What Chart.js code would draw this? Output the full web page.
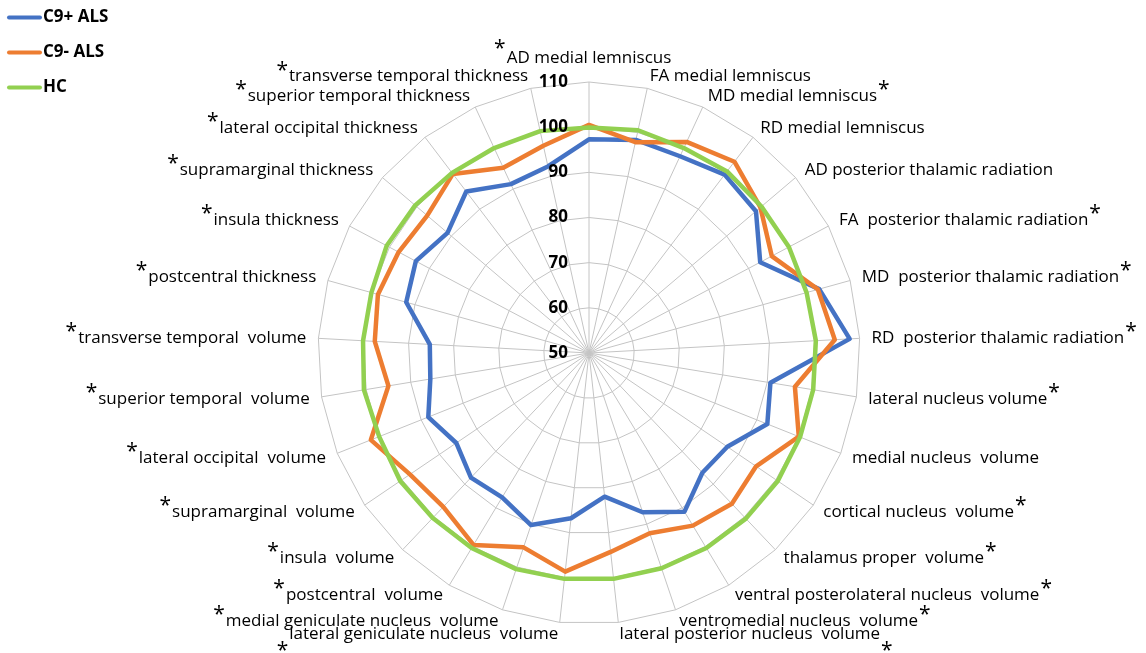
<!DOCTYPE html>
<html>
<head>
<meta charset="utf-8">
<title>Radar chart</title>
<script src="https://cdn.jsdelivr.net/npm/chart.js@4.4.1/dist/chart.umd.min.js"></script>
<style>
  html, body { margin: 0; padding: 0; background: #ffffff; }
  canvas { display: block; }
</style>
</head>
<body>
<canvas id="radar" width="1146" height="653"></canvas>
<script>
// Axis categories, clockwise from the top
const categories = [
  'AD medial lemniscus',
  'FA medial lemniscus',
  'MD medial lemniscus',
  'RD medial lemniscus',
  'AD posterior thalamic radiation',
  'FA  posterior thalamic radiation',
  'MD  posterior thalamic radiation',
  'RD  posterior thalamic radiation',
  'lateral nucleus volume',
  'medial nucleus  volume',
  'cortical nucleus  volume',
  'thalamus proper  volume',
  'ventral posterolateral nucleus  volume',
  'ventromedial nucleus  volume',
  'lateral posterior nucleus  volume',
  'lateral geniculate nucleus  volume',
  'medial geniculate nucleus  volume',
  'postcentral  volume',
  'insula  volume',
  'supramarginal  volume',
  'lateral occipital  volume',
  'superior temporal  volume',
  'transverse temporal  volume',
  'postcentral thickness',
  'insula thickness',
  'supramarginal thickness',
  'lateral occipital thickness',
  'superior temporal thickness',
  'transverse temporal thickness'
];

// Categories flagged with an asterisk
const significant = [
  true, false, true, false, false, true, true, true,
  true, false, true, true, true, true, true, true,
  true, true, true, true, true, true, true, true,
  true, true, true, true, true
];

// Series values (percent of reference)
const c9PositiveAls = [
  97.3, 98.3, 98.0, 99.6, 98.5, 92.9, 102.9, 107.8,
  90.7, 92.5, 87.0, 86.5, 91.0, 87.2, 82.0, 86.8,
  90.2, 87.3, 88.0, 85.5, 88.3, 85.6, 85.3, 92.0,
  93.4, 91.1, 94.9, 91.2, 92.3
];
const c9NegativeAls = [
  100.5, 97.8, 101.5, 103.2, 99.8, 95.8, 102.6, 104.5,
  96.2, 100.0, 94.7, 96.0, 94.6, 92.1, 94.3, 98.7,
  95.4, 99.6, 96.9, 97.9, 102.0, 95.0, 97.5, 98.5,
  97.7, 97.0, 99.8, 95.2, 97.0
];
const healthyControls = [
  99.9, 100.5, 100.0, 100.5, 100.1, 100.1, 100.0, 100.3,
  100.3, 100.3, 100.5, 100.5, 100.4, 100.3, 100.3, 100.3,
  100.5, 100.4, 100.3, 100.5, 100.0, 100.5, 100.1, 100.0,
  100.7, 100.5, 100.1, 100.0, 100.3
];

// Radial axis range and tick spacing
const axisMin = 50;
const axisMax = 110;
const axisStep = 10;

const seriesNames = ['C9+ ALS', 'C9- ALS', 'HC'];
const seriesColors = ['#4472C4', '#ED7D31', '#92D050'];

const TEXT_FONT = '"Open Sans", "Noto Sans", sans-serif';

// Draws tick values, category labels with asterisks, and the legend
const radarText = {
  id: 'radarText',
  afterDraw(chart) {
    const scale = chart.scales.r;
    const ctx = chart.ctx;
    ctx.save();
    ctx.fillStyle = '#000000';

    // tick values along the top spoke, right-aligned beside it
    ctx.font = 'bold 17px ' + TEXT_FONT;
    ctx.textAlign = 'right';
    ctx.textBaseline = 'middle';
    scale.ticks.forEach(t => {
      const d = scale.getDistanceFromCenterForValue(t.value);
      ctx.fillText(t.label, scale.xCenter - 21, scale.yCenter - d);
    });

    // category labels around the outer ring
    const outer = scale.getDistanceFromCenterForValue(scale.max);
    categories.forEach((text, i) => {
      const angle = scale.getIndexAngle(i);
      const sx = Math.sin(angle);
      const cy = Math.cos(angle);
      const atTop = Math.abs(sx) < 0.01 && cy > 0;
      const pos = scale.getPointPosition(i, outer + (atTop ? 15 : 12));
      ctx.font = '17px ' + TEXT_FONT;
      const w = ctx.measureText(text).width;
      let left;
      if (atTop) {
        ctx.textAlign = 'center';
        ctx.textBaseline = 'bottom';
        left = pos.x - w / 2;
      } else if (sx > 0) {
        ctx.textAlign = 'left';
        ctx.textBaseline = 'middle';
        left = pos.x;
      } else {
        ctx.textAlign = 'right';
        ctx.textBaseline = 'middle';
        left = pos.x - w;
      }
      ctx.fillText(text, pos.x, pos.y);

      if (significant[i]) {
        const midY = atTop ? pos.y - 12 : pos.y;
        const nearBottom = Math.abs(sx) < 0.15 && cy < 0;
        ctx.font = '21px ' + TEXT_FONT;
        ctx.textBaseline = 'alphabetic';
        const starY = nearBottom ? midY + 23 : midY;
        if (sx > 0.01) {
          ctx.textAlign = 'left';
          ctx.fillText('*', left + w + 1, starY);
        } else {
          ctx.textAlign = 'right';
          ctx.fillText('*', left - 1, starY);
        }
      }
    });

    // legend in the top-left corner
    ctx.font = 'bold 17px ' + TEXT_FONT;
    ctx.textAlign = 'left';
    ctx.textBaseline = 'middle';
    chart.data.datasets.forEach((ds, k) => {
      const y = 17.5 + k * 35;
      ctx.strokeStyle = ds.borderColor;
      ctx.lineWidth = 4;
      ctx.lineCap = 'round';
      ctx.beginPath();
      ctx.moveTo(9, y);
      ctx.lineTo(40, y);
      ctx.stroke();
      ctx.fillText(ds.label, 43, y);
    });
    ctx.restore();
  }
};

const datasets = [c9PositiveAls, c9NegativeAls, healthyControls].map((values, k) => ({
  label: seriesNames[k],
  data: values,
  borderColor: seriesColors[k],
  backgroundColor: 'rgba(0,0,0,0)',
  fill: false,
  order: 3 - k
}));

new Chart(document.getElementById('radar'), {
  type: 'radar',
  data: { labels: categories, datasets },
  options: {
    responsive: false,
    animation: false,
    layout: { padding: 0 },
    elements: {
      line: { borderWidth: 4.5, tension: 0, borderJoinStyle: 'round', borderCapStyle: 'round' },
      point: { radius: 0, hoverRadius: 0 }
    },
    plugins: {
      legend: { display: false },
      tooltip: { enabled: false },
      title: { display: false }
    },
    scales: {
      r: {
        min: axisMin,
        max: axisMax,
        ticks: { display: false, stepSize: axisStep },
        pointLabels: { display: false },
        grid: { color: '#C4C4C4', lineWidth: 1 },
        angleLines: { color: '#C4C4C4', lineWidth: 1 },
        afterFit(scale) {
          scale.xCenter = 589;
          scale.yCenter = 353;
          scale.drawingArea = 271;
        }
      }
    }
  },
  plugins: [radarText]
});
</script>
</body>
</html>
